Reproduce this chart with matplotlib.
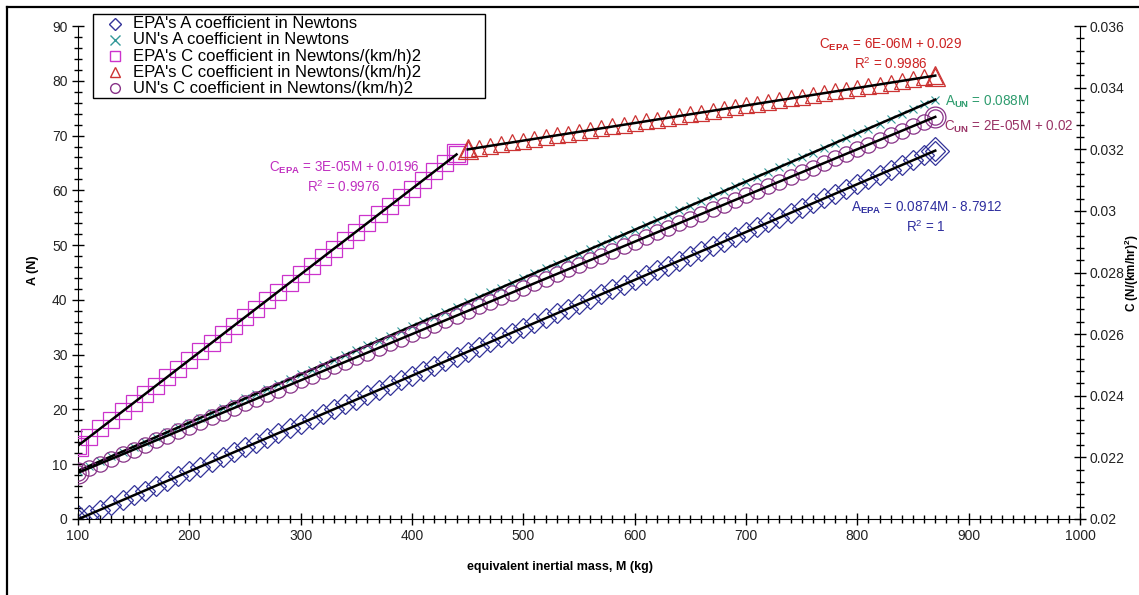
import numpy as np
import matplotlib.pyplot as plt
from matplotlib.lines import Line2D
from matplotlib.patches import Rectangle
from matplotlib.ticker import MultipleLocator

plt.rcParams["font.family"] = ["Liberation Sans", "DejaVu Sans"]
plt.rcParams["mathtext.fontset"] = "custom"
plt.rcParams["mathtext.rm"] = "Liberation Sans"
plt.rcParams["mathtext.bf"] = "Liberation Sans:bold"
plt.rcParams["mathtext.it"] = "Liberation Sans:italic"

# equivalent inertial mass (kg)
mass = [100, 110, 120, 130, 140, 150, 160, 170, 180, 190,
        200, 210, 220, 230, 240, 250, 260, 270, 280, 290,
        300, 310, 320, 330, 340, 350, 360, 370, 380, 390,
        400, 410, 420, 430, 440, 450, 460, 470, 480, 490,
        500, 510, 520, 530, 540, 550, 560, 570, 580, 590,
        600, 610, 620, 630, 640, 650, 660, 670, 680, 690,
        700, 710, 720, 730, 740, 750, 760, 770, 780, 790,
        800, 810, 820, 830, 840, 850, 860, 870]
mass_c_low = mass[:35]    # 100 .. 440
mass_c_high = mass[35:]   # 450 .. 870

# A coefficients (N)
a_epa = [-0.05, 0.82, 1.70, 2.57, 3.44, 4.32, 5.19, 6.07, 6.94, 7.81,
         8.69, 9.56, 10.44, 11.31, 12.18, 13.06, 13.93, 14.81, 15.68, 16.55,
         17.43, 18.30, 19.18, 20.05, 20.93, 21.80, 22.67, 23.55, 24.42, 25.30,
         26.17, 27.04, 27.92, 28.79, 29.66, 30.54, 31.41, 32.29, 33.16, 34.03,
         34.91, 35.78, 36.66, 37.53, 38.40, 39.28, 40.15, 41.03, 41.90, 42.77,
         43.65, 44.52, 45.40, 46.27, 47.14, 48.02, 48.89, 49.77, 50.64, 51.51,
         52.39, 53.26, 54.14, 55.01, 55.88, 56.76, 57.63, 58.51, 59.38, 60.25,
         61.13, 62.00, 62.88, 63.75, 64.62, 65.50, 66.37, 67.25]
a_un = [8.80, 9.68, 10.56, 11.44, 12.32, 13.20, 14.08, 14.96, 15.84, 16.72,
        17.60, 18.48, 19.36, 20.24, 21.12, 22.00, 22.88, 23.76, 24.64, 25.52,
        26.40, 27.28, 28.16, 29.04, 29.92, 30.80, 31.68, 32.56, 33.44, 34.32,
        35.20, 36.08, 36.96, 37.84, 38.72, 39.60, 40.48, 41.36, 42.24, 43.12,
        44.00, 44.88, 45.76, 46.64, 47.52, 48.40, 49.28, 50.16, 51.04, 51.92,
        52.80, 53.68, 54.56, 55.44, 56.32, 57.20, 58.08, 58.96, 59.84, 60.72,
        61.60, 62.48, 63.36, 64.24, 65.12, 66.00, 66.88, 67.76, 68.64, 69.52,
        70.40, 71.28, 72.16, 73.04, 73.92, 74.80, 75.68, 76.56]

# C coefficients (N/(km/h)^2)
c_epa_low = [0.02238, 0.02266, 0.02294, 0.02321, 0.02349, 0.02377, 0.02405,
             0.02433, 0.02460, 0.02488, 0.02516, 0.02544, 0.02572, 0.02599,
             0.02627, 0.02655, 0.02683, 0.02711, 0.02738, 0.02766, 0.02794,
             0.02822, 0.02850, 0.02877, 0.02905, 0.02933, 0.02961, 0.02989,
             0.03016, 0.03044, 0.03072, 0.03100, 0.03128, 0.03155, 0.03183]
c_epa_high = [0.03200, 0.03205, 0.03211, 0.03217, 0.03222, 0.03228, 0.03234,
              0.03239, 0.03245, 0.03251, 0.03257, 0.03262, 0.03268, 0.03274,
              0.03279, 0.03285, 0.03291, 0.03296, 0.03302, 0.03308, 0.03314,
              0.03319, 0.03325, 0.03331, 0.03336, 0.03342, 0.03348, 0.03353,
              0.03359, 0.03365, 0.03371, 0.03376, 0.03382, 0.03388, 0.03393,
              0.03399, 0.03405, 0.03410, 0.03416, 0.03422, 0.03428, 0.03433,
              0.03439]
c_un = [0.02150, 0.02165, 0.02180, 0.02195, 0.02210, 0.02225, 0.02240, 0.02255,
        0.02270, 0.02285, 0.02300, 0.02315, 0.02330, 0.02345, 0.02360, 0.02375,
        0.02390, 0.02405, 0.02420, 0.02435, 0.02450, 0.02465, 0.02480, 0.02495,
        0.02510, 0.02525, 0.02540, 0.02555, 0.02570, 0.02585, 0.02600, 0.02615,
        0.02630, 0.02645, 0.02660, 0.02675, 0.02690, 0.02705, 0.02720, 0.02735,
        0.02750, 0.02765, 0.02780, 0.02795, 0.02810, 0.02825, 0.02840, 0.02855,
        0.02870, 0.02885, 0.02900, 0.02915, 0.02930, 0.02945, 0.02960, 0.02975,
        0.02990, 0.03005, 0.03020, 0.03035, 0.03050, 0.03065, 0.03080, 0.03095,
        0.03110, 0.03125, 0.03140, 0.03155, 0.03170, 0.03185, 0.03200, 0.03215,
        0.03230, 0.03245, 0.03260, 0.03275, 0.03290, 0.03305]

labels = ["EPA's A coefficient in Newtons",
          "UN's A coefficient in Newtons",
          "EPA's C coefficient in Newtons/(km/h)2",
          "EPA's C coefficient in Newtons/(km/h)2",
          "UN's C coefficient in Newtons/(km/h)2"]

col_a_epa = "#333399"
col_a_un = "#339999"
col_c_low = "#CC33CC"
col_c_high = "#CC3333"
col_c_un = "#883388"

W, H = 1139, 595
fig = plt.figure(figsize=(W / 100, H / 100), dpi=100)
ax = fig.add_axes([78 / W, 76 / H, 1002 / W, 493 / H])
ax2 = ax.twinx()


def series(axis, x, y, marker, color, ms, end_ms=None, mew=0.9):
    axis.plot(x, y, linestyle="none", marker=marker, ms=ms, mfc="none",
              mec=color, mew=mew, zorder=2)
    if end_ms:
        axis.plot([x[0], x[-1]], [y[0], y[-1]], linestyle="none", marker=marker,
                  ms=end_ms, mfc="none", mec=color, mew=mew, zorder=2)


def trend(axis, x, y, through_origin=False):
    x = np.asarray(x, float)
    y = np.asarray(y, float)
    if through_origin:
        k = np.sum(x * y) / np.sum(x * x)
        fit = k * x
    else:
        p = np.polyfit(x, y, 1)
        fit = np.polyval(p, x)
    axis.plot([x[0], x[-1]], [fit[0], fit[-1]], color="black", lw=1.8, zorder=3)


series(ax, mass, a_epa, "D", col_a_epa, 10, 14)
series(ax, mass, a_un, "x", col_a_un, 6, mew=0.8)
series(ax2, mass_c_low, c_epa_low, "s", col_c_low, 11, 14)
series(ax2, mass_c_high, c_epa_high, "^", col_c_high, 11, 15)
series(ax2, mass, c_un, "o", col_c_un, 11, 15)

trend(ax, mass, a_epa)
trend(ax, mass, a_un, through_origin=True)
trend(ax2, mass_c_low, c_epa_low)
trend(ax2, mass_c_high, c_epa_high)
trend(ax2, mass, c_un)

# axes, ticks
ax.set_xlim(100, 1000)
ax.set_ylim(0, 90)
ax2.set_ylim(0.02, 0.036)
ax.xaxis.set_major_locator(MultipleLocator(100))
ax.xaxis.set_minor_locator(MultipleLocator(10))
ax.yaxis.set_major_locator(MultipleLocator(10))
ax.yaxis.set_minor_locator(MultipleLocator(2))
ax2.yaxis.set_minor_locator(MultipleLocator(0.0004))
ax2.set_yticks(np.arange(0.02, 0.0361, 0.002))
ax2.set_yticklabels(["0.02", "0.022", "0.024", "0.026", "0.028", "0.03",
                     "0.032", "0.034", "0.036"])

for a in (ax, ax2):
    a.spines["top"].set_visible(False)
    a.tick_params(which="major", direction="inout", length=9, width=1,
                  labelsize=10, labelcolor="#222222", pad=3)
    a.tick_params(which="minor", direction="inout", length=6, width=1)
ax2.tick_params(axis="y", which="major", pad=2)
ax.spines["right"].set_visible(False)
ax2.spines["left"].set_visible(False)
ax2.spines["bottom"].set_visible(False)
ax.patch.set_alpha(0)

# axis titles
fig.text(560 / W, 1 - 567 / H, "equivalent inertial mass, M (kg)", fontsize=9,
         fontweight="bold", ha="center", va="center")
fig.text(33 / W, 1 - 270 / H, "A (N)", fontsize=9, fontweight="bold",
         rotation=90, ha="center", va="center")
fig.text(1132 / W, 1 - 273 / H, "C (N/(km/hr)$^{\\mathbf{2}}$)", fontsize=8.5,
         fontweight="bold", rotation=90, ha="center", va="center")

# trendline equations
txt = dict(fontsize=9.75, ha="center", va="center", multialignment="center",
           linespacing=1.2, zorder=5)
ax.text(339, 62.4, "C$_{\\mathbf{EPA}}$ = 3E-05M + 0.0196\nR$^2$ = 0.9976",
        color="#C030C0", **txt)
ax.text(830, 84.8, "C$_{\\mathbf{EPA}}$ = 6E-06M + 0.029\nR$^2$ = 0.9986",
        color="#CC2222", **txt)
ax.text(862, 55.1, "A$_{\\mathbf{EPA}}$ = 0.0874M - 8.7912\nR$^2$ = 1",
        color="#2F2F9F", **txt)
ax.text(879, 76.2, "A$_{\\mathbf{UN}}$ = 0.088M", color="#2E9C6E",
        fontsize=9.75, ha="left", va="center", zorder=5)
ax.text(878, 71.6, "C$_{\\mathbf{UN}}$ = 2E-05M + 0.02", color="#993366",
        fontsize=9.75, ha="left", va="center", zorder=5)

# legend box with one row per series
fig.add_artist(Rectangle((93 / W, 1 - 98 / H), 392 / W, 84 / H, fill=True,
                         facecolor="white", edgecolor="black", lw=1,
                         transform=fig.transFigure, zorder=6))
leg_markers = [("D", col_a_epa, 6.5), ("x", col_a_un, 6.5), ("s", col_c_low, 7),
               ("^", col_c_high, 7.5), ("o", col_c_un, 7)]
for i, ((mk, col, ms), lab) in enumerate(zip(leg_markers, labels)):
    yy = 1 - (24 + 16 * i) / H
    fig.add_artist(Line2D([115 / W], [yy], linestyle="none", marker=mk, ms=ms,
                          mfc="none", mec=col, mew=1,
                          transform=fig.transFigure, zorder=7))
    fig.text(133 / W, yy, lab, fontsize=12, ha="left", va="center",
             color="black", zorder=7)

# outer border of the chart area
fig.add_artist(Line2D([7 / W, 7 / W], [-0.1, 1 - 7 / H], color="black", lw=1.6,
                      transform=fig.transFigure))
fig.add_artist(Line2D([7 / W, 1.1], [1 - 7 / H, 1 - 7 / H], color="black", lw=1.6,
                      transform=fig.transFigure))

fig.savefig("out.png", dpi=100)
